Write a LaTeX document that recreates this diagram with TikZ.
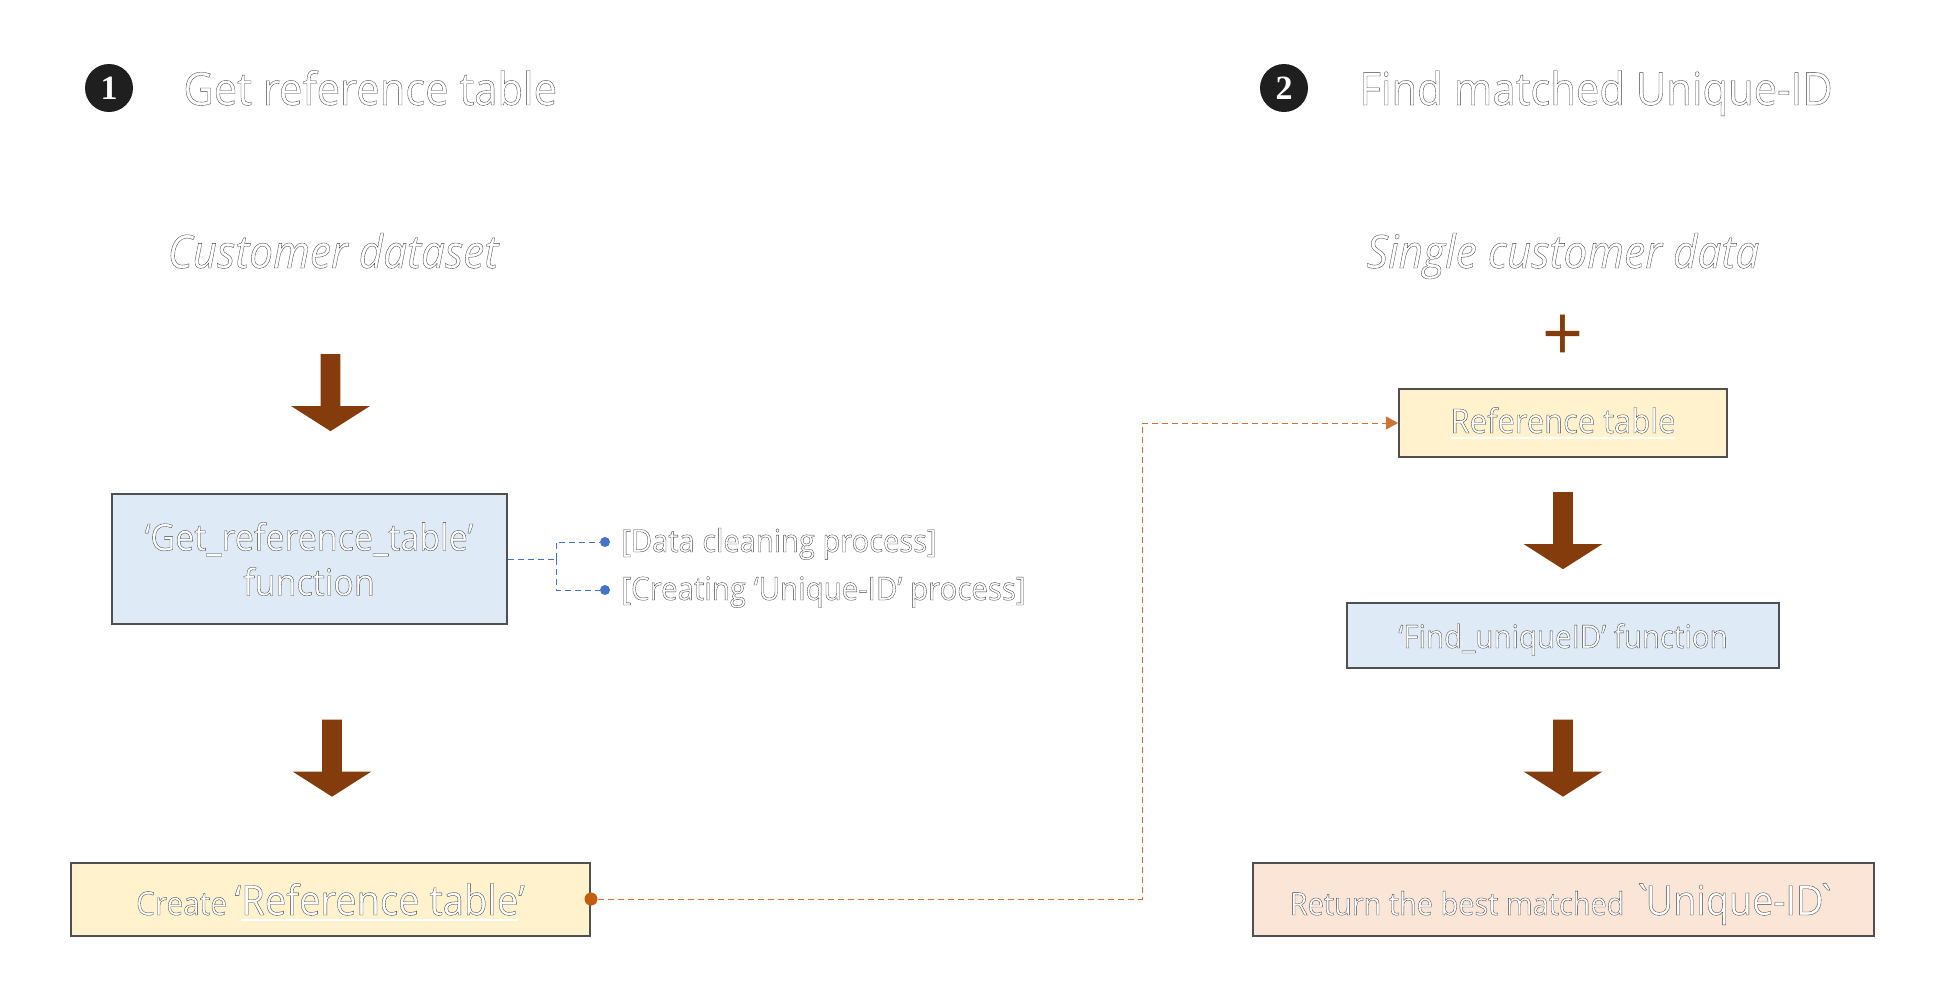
\documentclass[tikz,border=0pt]{standalone}
\usepackage{fontspec}
\setmainfont{Open Sans}[FakeStretch=.92,Ligatures=TeXOff]
\newfontfamily\numfont{Liberation Serif}
\usetikzlibrary{positioning,arrows.meta,shapes.arrows}
\definecolor{boxblue}{HTML}{DEEBF7}
\definecolor{boxyellow}{HTML}{FFF2CC}
\definecolor{boxpeach}{HTML}{FBE5D6}
\definecolor{boxedge}{HTML}{505050}
\definecolor{arrowbrown}{HTML}{843C0C}
\definecolor{linkorange}{HTML}{C55A11}
\definecolor{linkblue}{HTML}{4472C4}
% white letters with a thin dark rim
\newcommand{\rimtext}[1]{\special{pdf:code q 2 Tr 0.17 w 0.25 G}#1\special{pdf:code Q}}
\newcommand{\ulrim}[1]{\sbox0{\rimtext{#1}}\rlap{\rule[-3pt]{\wd0}{1.1pt}}\usebox0}
\newcommand{\dropbase}[2]{\raisebox{-#1}[0pt][0pt]{#2}}
\newcommand{\fs}[1]{\fontsize{#1}{#1}\selectfont}
\newcommand{\shaftfill}{\rule{9.5pt}{9.5pt}}
\tikzset{
 databox/.style={draw=boxedge,line width=1pt,inner sep=0pt,text=white,align=center},
 rimlabel/.style={text=white,inner sep=0pt},
 bigarrow/.style={single arrow,fill=arrowbrown,text=arrowbrown,inner sep=0pt,outer sep=0pt,
   minimum width=39pt,minimum height=38.5pt,single arrow head extend=14.75pt,
   single arrow tip angle=115,shape border rotate=270},
 numdot/.style={circle,fill=black!88,text=white,inner sep=0pt,minimum size=24pt},
 linkdot/.style={circle,inner sep=0pt,minimum size=5pt},
 linkline/.style={densely dashed,line width=.5pt},
}
\begin{document}
\begin{tikzpicture}[x=.5pt,y=-.5pt]
\useasboundingbox (0,0) rectangle (1955,1002);
%
% headings
\node[numdot] (numA) at (109,88) {\fs{17}\bfseries\numfont 1};
\node[numdot] (numB) at (1284,88) {\fs{17}\bfseries\numfont 2};
\node[rimlabel,anchor=base west] (headA) at (183,105) {\fs{22.7}\rimtext{Get reference table}};
\node[rimlabel,anchor=base west] (headB) at (1359,105) {\fs{22.7}\rimtext{Find matched Unique-ID}};
\node[rimlabel,anchor=base] (srcA) at (333,268) {\fs{23}\itshape\rimtext{Customer dataset}};
\node[rimlabel,anchor=base] (srcB) at (1563,268) {\fs{23}\itshape\rimtext{Single customer data}};
\node[text=arrowbrown,inner sep=0pt] (plusB) at (1563,338) {\fs{39}+};
%
% left column
\node[databox,fill=boxblue,minimum width=197.5pt,minimum height=65pt] (getbox) at (309,559)
  {\fs{18.5}\rimtext{‘Get\_reference\_table’}\\[4.5pt]\fs{18.5}\rimtext{function}};
\node[databox,fill=boxyellow,minimum width=259.5pt,minimum height=36.5pt] (makebox) at (330.5,899)
  {\dropbase{8pt}{\fs{16.2}\rimtext{Create} \fs{20.7}\rimtext{‘}\ulrim{Reference table}\rimtext{’}}};
\node[bigarrow] (arrA) at (330.5,389.5) {\shaftfill};
\node[bigarrow] (arrB) at (332,755) {\shaftfill};
%
% right column
\node[databox,fill=boxyellow,minimum width=164pt,minimum height=34pt] (refbox) at (1563,423)
  {\dropbase{5pt}{\fs{16.8}\ulrim{Reference table}}};
\node[databox,fill=boxblue,minimum width=216pt,minimum height=32.5pt] (findbox) at (1563,635)
  {\dropbase{6.5pt}{\fs{16}\rimtext{‘Find\_uniqueID’ function}}};
\node[databox,fill=boxpeach,minimum width=310.5pt,minimum height=36.5pt] (retbox) at (1563.5,899)
  {\dropbase{8pt}{\fs{15.7}\rimtext{Return the best matched} \fs{20.5}\rimtext{`\kern-4pt Unique-ID\kern-4pt `}}};
\node[bigarrow] (arrC) at (1563,527.5) {\shaftfill};
\node[bigarrow] (arrD) at (1563,755) {\shaftfill};
%
% side notes
\coordinate (forkA) at (556,559);
\node[linkdot,fill=linkblue] (dotA) at (605,542) {};
\node[linkdot,fill=linkblue] (dotB) at (605,590) {};
\node[rimlabel,anchor=base west] (noteA) at (621,552) {\fs{15.8}\rimtext{[Data cleaning process]}};
\node[rimlabel,anchor=base west] (noteB) at (621,600) {\fs{16}\rimtext{[Creating ‘Unique-ID’ process]}};
\draw[linkblue,linkline] (getbox.east) -- (forkA);
\draw[linkblue,linkline] (forkA) |- (dotA);
\draw[linkblue,linkline] (forkA) |- (dotB);
%
% link between the two columns
\node[linkdot,fill=linkorange,minimum size=6.5pt] (dotC) at (makebox.east) {};
\coordinate (elbowA) at (1142,423);
\draw[linkorange!85,linkline,-{Triangle[length=6pt,width=6.5pt]}]
  (dotC) -| (elbowA) -- (refbox.west);
\end{tikzpicture}
\end{document}
